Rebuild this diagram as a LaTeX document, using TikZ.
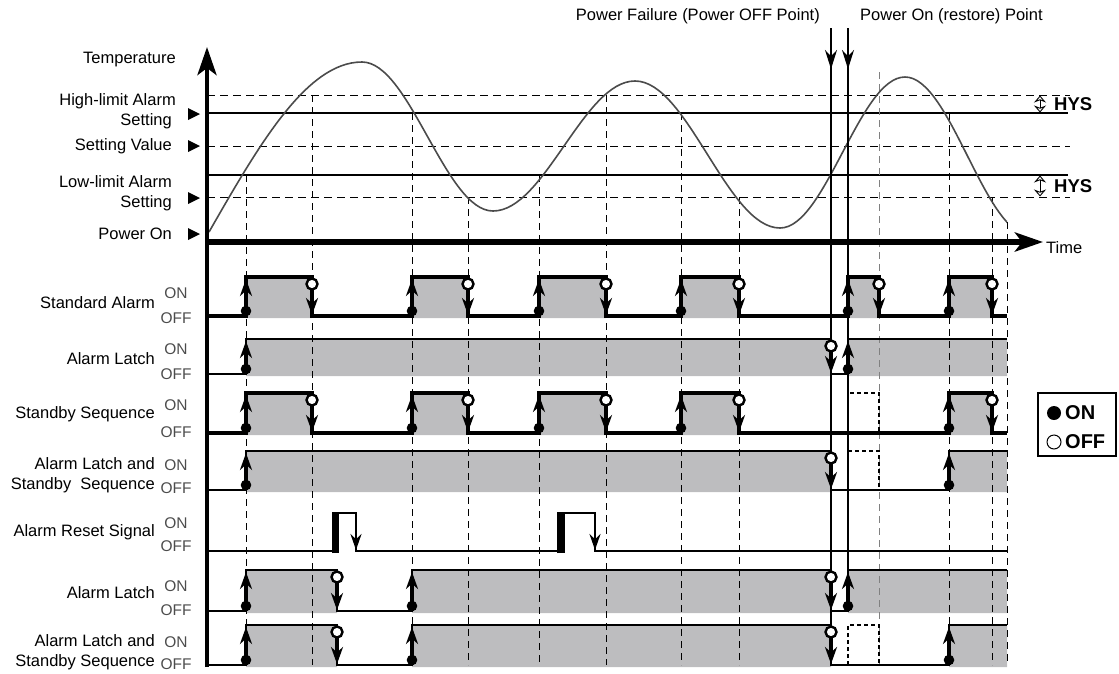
\documentclass[tikz,border=0pt]{standalone}
\usepackage{fontspec}
\setmainfont{Liberation Sans}
\usetikzlibrary{arrows.meta}

\definecolor{softgray}{RGB}{189,189,191}
\definecolor{curvegray}{RGB}{75,75,75}

\newcommand{\lblfont}{\fontsize{16.5}{19.5}\selectfont}
\newcommand{\levelfont}{\fontsize{15.5}{17}\selectfont}
\newcommand{\keyfont}{\fontsize{20}{22}\selectfont\bfseries}
\newcommand{\hysfont}{\fontsize{18.5}{20}\selectfont\bfseries}

% rising edge: x, OFF level, ON level
\newcommand{\switchon}[3]{%
  \draw[edgearrow] (#1,#2) -- (#1,#3+2);
  \fill (#1,#2-5) circle (5.3pt);}

% falling edge: x, ON level, OFF level
\newcommand{\switchoff}[3]{%
  \draw[edgearrow] (#1,#2+8) -- (#1,#3-1);
  \draw[offmark] (#1,#2+7) circle (5.5pt);}

% ON / OFF tags of one row
\newcommand{\onofftags}[3]{%
  \node[tag] (#1on) at (176,#2) {ON};
  \node[tag] (#1off) at (176,#3) {OFF};}

\begin{document}
\begin{tikzpicture}[
x=1pt, y=-1pt,
every node/.style={inner sep=0pt, font=\lblfont},
edgearrow/.style={line width=3.8pt, -{Stealth[length=17pt,width=12pt]}},
droparrow/.style={line width=2.4pt, -{Stealth[length=16pt,width=11pt]}},
powerarrow/.style={line width=1.5pt, -{Stealth[length=19pt,width=12pt]}},
axisarrow/.style={-{Stealth[length=28pt,width=19pt,inset=7pt]}},
hysarrow/.style={line width=0.9pt, {Stealth[open,length=7pt,width=12pt]}-{Stealth[open,length=7pt,width=12pt]}}
]

\useasboundingbox (0,0) rectangle (1119,673);

% =====================================================
% Styles
% =====================================================

\tikzstyle{onband} = [fill=softgray]
\tikzstyle{setline} = [line width=1.1pt]
\tikzstyle{hysline} = [line width=1pt, dash pattern=on 8pt off 5pt]
\tikzstyle{guide} = [line width=1pt, dash pattern=on 7pt off 5pt]
\tikzstyle{ghost} = [line width=1.1pt, dash pattern=on 4pt off 3pt]
\tikzstyle{curve} = [line width=1.6pt, draw=curvegray]
\tikzstyle{sigbold} = [line width=3.8pt]
\tikzstyle{siglatch} = [line width=2.8pt]
\tikzstyle{offmark} = [draw=black, fill=white, line width=2.4pt]
\tikzstyle{tag} = [font=\levelfont, text=black!70]

% =====================================================
% ON bands
% =====================================================

\fill[onband] (246,277) rectangle (312,318) (412,277) rectangle (468,318)
  (539,277) rectangle (606,318) (681,277) rectangle (739,318)
  (848,277) rectangle (879,318) (949,277) rectangle (992,318);
\fill[onband] (246,339) rectangle (831,376) (848,339) rectangle (1007,376);
\fill[onband] (246,393) rectangle (312,435) (412,393) rectangle (468,435)
  (539,393) rectangle (606,435) (681,393) rectangle (739,435)
  (949,393) rectangle (992,435);
\fill[onband] (246,451) rectangle (831,492) (949,451) rectangle (1007,492);
\fill[onband] (246,570) rectangle (337,613) (412,570) rectangle (831,613)
  (848,570) rectangle (1007,613);
\fill[onband] (246,625) rectangle (337,667) (412,625) rectangle (831,667)
  (949,625) rectangle (1007,667);

% =====================================================
% Temperature levels and guides
% =====================================================

\draw[hysline] (207,95) -- (1070,95);
\draw[setline] (207,113) -- (1068,113);
\draw[hysline] (207,146) -- (1070,146);
\draw[setline] (207,175) -- (1068,175);
\draw[hysline] (207,197) -- (1070,197);

\draw[guide] (246,175) -- (246,665);
\draw[guide] (312,95) -- (312,665);
\draw[guide] (412,113) -- (412,665);
\draw[guide] (468,197) -- (468,665);
\draw[guide] (539,175) -- (539,665);
\draw[guide] (606,95) -- (606,665);
\draw[guide] (681,113) -- (681,665);
\draw[guide] (739,197) -- (739,665);
\draw[guide, draw=gray] (879,72) -- (879,665);
\draw[guide] (949,113) -- (949,665);
\draw[guide] (992,197) -- (992,665);
\draw[guide] (1007,222) -- (1007,665);

\begin{scope}
\clip (200,40) rectangle (1007,250);
\draw[curve] (209,232) sin (362,62) cos (427.5,136.5) sin (493,211)
  cos (564,146) sin (635,81) cos (707.5,154.5) sin (780,228)
  cos (842.5,152.5) sin (905,77) cos (967.5,156) sin (1030,235);
\end{scope}

% =====================================================
% Axes and power points
% =====================================================

\draw[axisarrow, line width=4.5pt] (207,667) -- (207,47);
\draw[axisarrow, line width=5.5pt] (207,242) -- (1043,242);

\draw[powerarrow] (831,28) -- (831,69);
\draw[line width=1.5pt] (831,66) -- (831,665);
\draw[powerarrow] (848,28) -- (848,69);
\draw[line width=1.5pt] (848,66) -- (848,611);

% =====================================================
% Signals
% =====================================================

% Standard Alarm
\draw[sigbold] (207,316) -- (246,316) -- (246,277) -- (312,277) -- (312,316)
  -- (412,316) -- (412,277) -- (468,277) -- (468,316) -- (539,316)
  -- (539,277) -- (606,277) -- (606,316) -- (681,316) -- (681,277)
  -- (739,277) -- (739,316) -- (848,316) -- (848,277) -- (879,277)
  -- (879,316) -- (949,316) -- (949,277) -- (992,277) -- (992,316) -- (1007,316);
\switchon{246}{316}{277} \switchoff{312}{277}{316}
\switchon{412}{316}{277} \switchoff{468}{277}{316}
\switchon{539}{316}{277} \switchoff{606}{277}{316}
\switchon{681}{316}{277} \switchoff{739}{277}{316}
\switchon{848}{316}{277} \switchoff{879}{277}{316}
\switchon{949}{316}{277} \switchoff{992}{277}{316}

% Alarm Latch
\draw[siglatch] (207,374) -- (246,374) -- (246,339) -- (831,339) -- (831,374)
  -- (848,374) -- (848,339) -- (1007,339);
\switchon{246}{374}{339} \switchoff{831}{339}{374}
\switchon{848}{374}{339}

% Standby Sequence
\draw[sigbold] (207,433) -- (246,433) -- (246,393) -- (312,393) -- (312,433)
  -- (412,433) -- (412,393) -- (468,393) -- (468,433) -- (539,433)
  -- (539,393) -- (606,393) -- (606,433) -- (681,433) -- (681,393)
  -- (739,393) -- (739,433) -- (949,433) -- (949,393) -- (992,393)
  -- (992,433) -- (1007,433);
\draw[ghost] (848,433) -- (848,393) -- (879,393) -- (879,433);
\switchon{246}{433}{393} \switchoff{312}{393}{433}
\switchon{412}{433}{393} \switchoff{468}{393}{433}
\switchon{539}{433}{393} \switchoff{606}{393}{433}
\switchon{681}{433}{393} \switchoff{739}{393}{433}
\switchon{949}{433}{393} \switchoff{992}{393}{433}

% Alarm Latch and Standby Sequence
\draw[siglatch] (207,490) -- (246,490) -- (246,451) -- (831,451) -- (831,490)
  -- (949,490) -- (949,451) -- (1007,451);
\draw[ghost] (848,451) -- (879,451) -- (879,490);
\switchon{246}{490}{451} \switchoff{831}{451}{490}
\switchon{949}{490}{451}

% Alarm Reset Signal
\draw[siglatch] (207,551) -- (335,551) -- (335,513) -- (356,513) -- (356,551)
  -- (561,551) -- (561,513) -- (595,513) -- (595,551) -- (1007,551);
\draw[line width=7.5pt] (335.5,553) -- (335.5,512);
\draw[line width=7.5pt] (561,553) -- (561,512);
\draw[droparrow] (356,514) -- (356,550);
\draw[droparrow] (595,514) -- (595,550);

% Alarm Latch (reset)
\draw[siglatch] (207,611) -- (246,611) -- (246,570) -- (337,570) -- (337,611)
  -- (412,611) -- (412,570) -- (831,570) -- (831,611) -- (848,611)
  -- (848,570) -- (1007,570);
\switchon{246}{611}{570} \switchoff{337}{570}{611}
\switchon{412}{611}{570} \switchoff{831}{570}{611}
\switchon{848}{611}{570}

% Alarm Latch and Standby Sequence (reset)
\draw[siglatch] (207,665) -- (246,665) -- (246,625) -- (337,625) -- (337,665)
  -- (412,665) -- (412,625) -- (831,625) -- (831,665) -- (949,665)
  -- (949,625) -- (1007,625);
\draw[ghost] (848,665) -- (848,625) -- (879,625) -- (879,665);
\switchon{246}{665}{625} \switchoff{337}{625}{665}
\switchon{412}{665}{625} \switchoff{831}{625}{665}
\switchon{949}{665}{625}

% =====================================================
% Labels
% =====================================================

\node (pfail) [anchor=east] at (820,16) {Power Failure (Power OFF Point)};
\node (prestore) [anchor=west] at (860,16) {Power On (restore) Point};
\node (time) [anchor=west] at (1046,248) {Time};

\node (temp) [anchor=east] at (176,60) {Temperature};
\node (highset) [anchor=east, align=right] at (176,111) {High-limit Alarm\\Setting\hspace*{4pt}};
\node (setvalue) [anchor=east] at (172,146) {Setting Value};
\node (lowset) [anchor=east, align=right] at (172,193) {Low-limit Alarm\\Setting};
\node (poweron) [anchor=east] at (172,234) {Power On};

\fill (188,108) -- (200,114) -- (188,120) -- cycle;
\fill (188,140) -- (200,146) -- (188,152) -- cycle;
\fill (188,192) -- (200,198) -- (188,204) -- cycle;
\fill (188,228) -- (200,234) -- (188,240) -- cycle;

\node (stdalarm) [anchor=east] at (155,303) {Standard Alarm};
\node (latch) [anchor=east] at (155,359) {Alarm Latch};
\node (standby) [anchor=east] at (155,414) {Standby Sequence};
\node (latchstby) [anchor=east, align=right] at (155,475) {Alarm Latch and\\Standby~ Sequence};
\node (reset) [anchor=east] at (155,532) {Alarm Reset Signal};
\node (latchrst) [anchor=east] at (155,593) {Alarm Latch};
\node (latchstbyrst) [anchor=east, align=right] at (155,652) {Alarm Latch and\\Standby Sequence};

\onofftags{std}{293}{318}
\onofftags{lat}{349}{374}
\onofftags{stb}{405}{432}
\onofftags{lsb}{465}{488}
\onofftags{rst}{523}{546}
\onofftags{lrs}{586}{610}
\onofftags{lsr}{642}{664}

% HYS marks
\draw[hysarrow] (1040,95.5) -- (1040,112.5);
\node (hyshigh) [anchor=west, font=\hysfont] at (1054,104) {HYS};
\draw[hysarrow] (1040,175.5) -- (1040,196.5);
\node (hyslow) [anchor=west, font=\hysfont] at (1054,186) {HYS};

% legend
\draw[line width=1.2pt] (1038,393) rectangle (1116,456);
\fill (1054,413) circle (7pt);
\node (keyon) [anchor=west, font=\keyfont] at (1065,413) {ON};
\draw[line width=1pt] (1054,442) circle (7pt);
\node (keyoff) [anchor=west, font=\keyfont] at (1065,442) {OFF};

\end{tikzpicture}
\end{document}
